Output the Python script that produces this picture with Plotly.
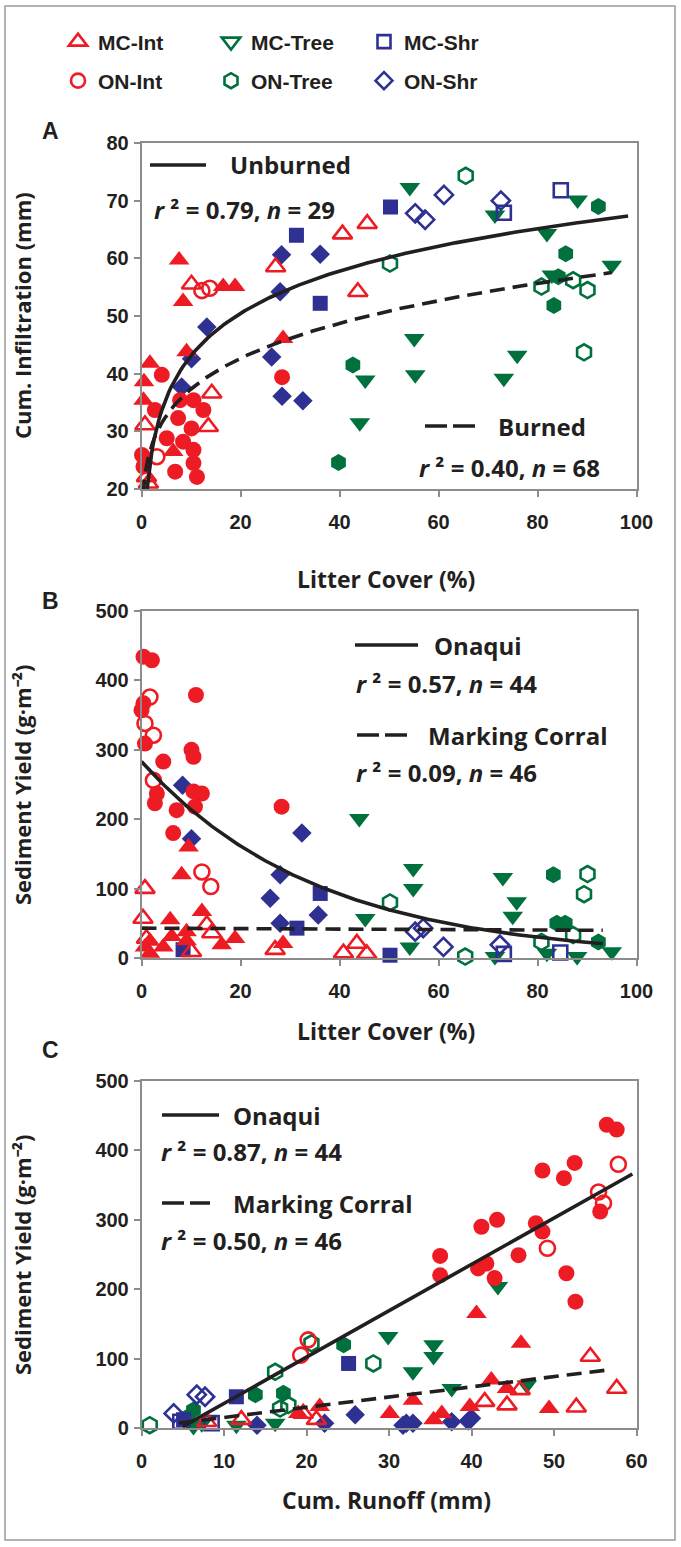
import plotly.graph_objects as go
import numpy as np

W, H = 681, 1547

RED = "#ED1C24"
GREEN = "#00703C"
BLUE = "#2E3192"
INK = "#231F20"
GRAY = "#8C8C8C"

# ---------------- Panel A: litter cover (%) vs cum. infiltration (mm)
A_MCINT_O = [(27.1,58.5),(40.6,64.2),(45.6,66.0),(43.7,54.2),(10.1,55.5),(14.2,36.6),(13.5,30.8),(0.7,31.1),(1.0,22.1),(1.4,21.0)]
A_MCINT_F = [(7.6,59.7),(8.4,52.5),(16.5,55.1),(18.9,55.1),(9.1,43.8),(28.6,46.1),(1.7,41.8),(0.5,38.6),(0.4,35.4),(6.4,26.5)]
A_ONINT_O = [(12.2,54.4),(13.8,54.8),(3.1,25.6)]
A_ONINT_F = [(4.1,39.8),(2.7,33.7),(7.8,35.4),(10.5,35.4),(12.5,33.7),(7.4,32.3),(10.1,30.5),(5.1,28.8),(8.4,28.2),(10.5,26.8),(0.1,25.9),(0.4,23.9),(6.8,23.0),(11.2,22.1),(10.5,24.5),(28.4,39.4)]
A_MCTREE_O = []
A_MCTREE_F = [(54.2,72.3),(71.4,67.5),(88.1,70.1),(81.9,64.3),(95.0,58.8),(82.9,57.1),(55.1,46.1),(55.3,39.8),(75.9,43.2),(73.2,39.2),(45.2,38.9),(44.1,31.5)]
A_ONTREE_O = [(50.2,59.1),(65.5,74.3),(87.2,56.2),(80.8,55.1),(90.1,54.5),(89.4,43.7)]
A_ONTREE_F = [(92.3,69.0),(85.7,60.8),(84.2,56.8),(83.3,51.8),(42.7,41.5),(39.8,24.6)]
A_MCSHR_O = [(73.2,67.9),(84.7,71.8)]
A_MCSHR_F = [(31.3,64.0),(36.1,52.2),(50.3,68.9)]
A_ONSHR_O = [(55.3,67.8),(57.3,66.7),(61.1,71.0),(72.6,70.0)]
A_ONSHR_F = [(13.2,48.1),(28.3,60.6),(36.1,60.7),(28.0,54.2),(10.1,42.6),(26.3,42.9),(28.4,36.1),(32.6,35.3),(8.1,37.7)]

# ---------------- Panel B: litter cover (%) vs sediment yield (g m-2)
B_MCINT_O = [(0.7,100),(0.3,57),(13.2,48),(14.2,36),(10.1,9),(27.0,12),(40.8,7),(43.5,21),(45.5,6),(1.0,28)]
B_MCINT_F = [(9.5,160),(8.1,120),(5.8,55),(12.2,67),(9.1,38),(18.9,28),(6.1,31),(1.7,24),(0.7,16),(16.2,19),(28.6,21),(4.4,16),(1.7,7),(9.1,25)]
B_ONINT_O = [(1.7,376),(0.7,338),(2.4,321),(2.4,256),(12.2,124),(14.0,103)]
B_ONINT_F = [(0.4,434),(2.1,429),(0.4,367),(0.0,357),(11.0,379),(0.7,309),(4.4,283),(10.1,300),(10.5,290),(3.1,237),(10.5,240),(12.2,237),(28.3,218),(2.7,223),(7.1,213),(10.8,218),(6.4,180)]
B_MCTREE_O = []
B_MCTREE_F = [(44.0,201),(45.2,57),(54.9,129),(54.9,100),(54.2,16),(71.4,2),(73.0,116),(75.8,81),(75.0,60),(81.9,7),(88.0,2),(95.0,9)]
B_ONTREE_O = [(50.2,80),(65.4,2),(90.1,121),(89.4,92),(87.2,33),(80.8,23)]
B_ONTREE_F = [(83.2,120),(83.9,50),(85.6,50),(92.3,23)]
B_MCSHR_O = [(73.2,6),(84.6,8)]
B_MCSHR_F = [(36.1,93),(31.4,43),(8.4,12),(50.2,4)]
B_ONSHR_O = [(55.3,38),(56.9,43),(61.0,16),(72.4,19)]
B_ONSHR_F = [(8.3,249),(10.1,172),(32.4,180),(28.0,120),(26.0,86),(35.7,62),(28.0,50)]

# ---------------- Panel C: cum. runoff (mm) vs sediment yield (g m-2)
C_MCINT_O = [(54.4,103),(57.6,57),(52.7,30),(44.3,33),(41.6,38),(45.9,55),(12.1,12),(19.6,21),(21.2,12),(7.9,9)]
C_MCINT_F = [(40.6,165),(46.0,122),(42.4,69),(44.3,57),(32.9,40),(49.4,28),(35.4,12),(36.4,21),(39.8,31),(19.0,21),(21.6,31),(30.1,21)]
C_ONINT_O = [(57.8,380),(55.4,340),(56.0,324),(49.2,259),(20.2,127),(19.3,105)]
C_ONINT_F = [(56.4,437),(57.6,430),(48.6,371),(51.2,360),(52.5,382),(41.2,290),(43.1,300),(47.8,295),(48.6,283),(36.2,248),(36.2,220),(40.8,230),(41.8,237),(42.8,216),(45.7,249),(51.5,223),(52.6,182),(55.6,312)]
C_MCTREE_O = []
C_MCTREE_F = [(43.2,204),(35.4,120),(35.4,103),(32.9,81),(37.6,57),(46.7,62),(29.9,132),(11.5,4),(16.2,7),(6.3,2),(7.3,6)]
C_ONTREE_O = [(1.0,4),(16.2,81),(16.8,28),(17.8,33),(20.6,122),(28.1,93)]
C_ONTREE_F = [(6.3,26),(13.8,48),(17.2,50),(24.5,120),(5.5,15)]
C_MCSHR_O = [(4.7,9),(8.5,7)]
C_MCSHR_F = [(11.5,45),(25.1,93),(5.1,12)]
C_ONSHR_O = [(3.9,21),(6.7,48),(7.7,45)]
C_ONSHR_F = [(14.0,4),(22.2,7),(25.9,19),(31.7,4),(32.9,7),(32.1,7),(37.6,9),(40.0,14),(39.6,10)]

# ---------------- fitted trend lines (coefficients)
A_UNBURNED_LOG = (18.7, 10.6, 1.13, 98.3)     # y = a + b ln x, x from..to
A_BURNED_POW = (24.0, 0.192, 0.3, 95.0)       # y = a x^b
B_ONAQUI_EXP = (283.0, 0.0281, 0.0, 93.2)     # y = a exp(-k x)
B_MC_EXP = (43.0, 0.0008, 0.0, 93.2)
C_ONAQUI_LIN = (6.68, -31.4, 5.0, 59.5)       # y = m x + c
C_MC_LIN = (1.47, 0.5, 4.5, 57.0)

LEGEND_NAMES = ["MC-Int", "MC-Tree", "MC-Shr", "ON-Int", "ON-Tree", "ON-Shr"]
XTICKS_A = [0, 20, 40, 60, 80, 100]
YTICKS_A = [20, 30, 40, 50, 60, 70, 80]
YTICKS_B = [0, 100, 200, 300, 400, 500]
XTICKS_C = [0, 10, 20, 30, 40, 50, 60]

FONT = "Liberation Sans"
LFONT = "Open Sans"

STYLE = {
    "MCINT": ("triangle-up", RED, 18),
    "ONINT": ("circle", RED, 16),
    "MCTREE": ("triangle-down", GREEN, 18),
    "ONTREE": ("hexagon", GREEN, 17),
    "MCSHR": ("square", BLUE, 15),
    "ONSHR": ("diamond", BLUE, 15),
}

def ppx(p):
    return p / W

def ppy(p):
    return 1 - p / H

fig = go.Figure()

def add_group(pts, key, filled, xa, ya):
    if not pts:
        return
    sym, col, size = STYLE[key]
    xs = [p[0] for p in pts]
    ys = [p[1] for p in pts]
    if filled:
        marker = dict(symbol=sym, color=col, size=size, line=dict(width=0))
    else:
        marker = dict(symbol=sym + "-open", color=col, size=size - 1, line=dict(width=2.6, color=col))
    fig.add_trace(go.Scatter(x=xs, y=ys, mode="markers", marker=marker, xaxis=xa, yaxis=ya,
                             showlegend=False, cliponaxis=False, hoverinfo="x+y"))

panels = {
    ("x", "y"): dict(MCINT=(A_MCINT_O, A_MCINT_F), ONINT=(A_ONINT_O, A_ONINT_F),
                     MCTREE=(A_MCTREE_O, A_MCTREE_F), ONTREE=(A_ONTREE_O, A_ONTREE_F),
                     MCSHR=(A_MCSHR_O, A_MCSHR_F), ONSHR=(A_ONSHR_O, A_ONSHR_F)),
    ("x2", "y2"): dict(MCINT=(B_MCINT_O, B_MCINT_F), ONINT=(B_ONINT_O, B_ONINT_F),
                       MCTREE=(B_MCTREE_O, B_MCTREE_F), ONTREE=(B_ONTREE_O, B_ONTREE_F),
                       MCSHR=(B_MCSHR_O, B_MCSHR_F), ONSHR=(B_ONSHR_O, B_ONSHR_F)),
    ("x3", "y3"): dict(MCINT=(C_MCINT_O, C_MCINT_F), ONINT=(C_ONINT_O, C_ONINT_F),
                       MCTREE=(C_MCTREE_O, C_MCTREE_F), ONTREE=(C_ONTREE_O, C_ONTREE_F),
                       MCSHR=(C_MCSHR_O, C_MCSHR_F), ONSHR=(C_ONSHR_O, C_ONSHR_F)),
}
order = ["ONTREE", "MCTREE", "MCSHR", "ONSHR", "MCINT", "ONINT"]
for (xa, ya), groups in panels.items():
    for key in order:
        o, f = groups[key]
        add_group(o, key, False, xa, ya)
        add_group(f, key, True, xa, ya)

# trend lines
def curve(kind, coef):
    a, b, x0, x1 = coef
    xs = np.linspace(x0, x1, 200)
    if kind == "log":
        ys = a + b * np.log(xs)
    elif kind == "pow":
        ys = a * np.power(xs, b)
    elif kind == "exp":
        ys = a * np.exp(-b * xs)
    else:
        ys = a * xs + b
    return xs, ys

SOLID = dict(color=INK, width=3.6)
DASHED = dict(color=INK, width=3.6, dash="15px,8px")
for kind, coef, line, xa, ya in [
    ("log", A_UNBURNED_LOG, SOLID, "x", "y"),
    ("pow", A_BURNED_POW, DASHED, "x", "y"),
    ("exp", B_ONAQUI_EXP, SOLID, "x2", "y2"),
    ("exp", B_MC_EXP, DASHED, "x2", "y2"),
    ("lin", C_ONAQUI_LIN, SOLID, "x3", "y3"),
    ("lin", C_MC_LIN, DASHED, "x3", "y3"),
]:
    xs, ys = curve(kind, coef)
    fig.add_trace(go.Scatter(x=xs, y=ys, mode="lines", line=line, xaxis=xa, yaxis=ya,
                             showlegend=False, hoverinfo="skip"))

# legend entries (open symbols)
leg_keys = ["MCINT", "MCTREE", "MCSHR", "ONINT", "ONTREE", "ONSHR"]
for i, (key, name) in enumerate(zip(leg_keys, LEGEND_NAMES)):
    sym, col, size = STYLE[key]
    fig.add_trace(go.Scatter(x=[None], y=[None], mode="markers", name=name,
                             marker=dict(symbol=sym + "-open", color=col, size=size - 2,
                                         line=dict(width=2.6, color=col)),
                             legend="legend" if i < 3 else "legend2"))

xdom = [ppx(141.5), ppx(636.5)]
tickfont = dict(family=FONT, size=20, color=INK, weight="bold")

def xaxis(rng, ticks, dom_anchor):
    return dict(domain=xdom, range=rng, tickvals=ticks, showline=True, linecolor=GRAY, linewidth=1.5,
                mirror=True, ticks="outside", ticklen=6, tickcolor=GRAY, tickwidth=1.5,
                showgrid=False, zeroline=False, tickfont=tickfont, anchor=dom_anchor,
                automargin=False, ticklabelstandoff=8, fixedrange=True)

def yaxis(dom, rng, ticks, anchor):
    return dict(domain=dom, range=rng, tickvals=ticks, showline=True, linecolor=GRAY, linewidth=1.5,
                mirror=True, ticks="outside", ticklen=6, tickcolor=GRAY, tickwidth=1.5,
                showgrid=False, zeroline=False, tickfont=tickfont, anchor=anchor,
                automargin=False, ticklabelstandoff=1, fixedrange=True)

legfont = dict(family=FONT, size=21, color=INK, weight="bold")
fig.update_layout(
    width=W, height=H, margin=dict(l=0, r=0, t=0, b=0, autoexpand=False),
    paper_bgcolor="white", plot_bgcolor="white",
    xaxis=xaxis([0, 100], XTICKS_A, "y"),
    yaxis=yaxis([ppy(489), ppy(143)], [20, 80], YTICKS_A, "x"),
    xaxis2=xaxis([0, 100], XTICKS_A, "y2"),
    yaxis2=yaxis([ppy(958), ppy(611)], [0, 500], YTICKS_B, "x2"),
    xaxis3=xaxis([0, 60], XTICKS_C, "y3"),
    yaxis3=yaxis([ppy(1428), ppy(1081)], [0, 500], YTICKS_B, "x3"),
    legend=dict(orientation="h", x=ppx(58), y=ppy(42), xanchor="left", yanchor="middle",
                entrywidth=108, entrywidthmode="pixels", bgcolor="rgba(0,0,0,0)",
                font=legfont, itemsizing="trace"),
    legend2=dict(orientation="h", x=ppx(58), y=ppy(81), xanchor="left", yanchor="middle",
                 entrywidth=108, entrywidthmode="pixels", bgcolor="rgba(0,0,0,0)",
                 font=legfont, itemsizing="trace"),
)

ann = []
def text(s, x, y, size=24, xanchor="left", angle=0, family=LFONT):
    ann.append(dict(text=s, x=ppx(x), y=ppy(y), xref="paper", yref="paper", showarrow=False,
                    xanchor=xanchor, yanchor="middle", textangle=angle,
                    font=dict(family=family, size=size, color=INK, weight="bold")))

# panel letters
text("A", 40, 131, 23, family=FONT)
text("B", 40, 601, 23, family=FONT)
text("C", 40, 1050, 23, family=FONT)
# axis titles
text("Cum. Infiltration (mm)", 22, 316, 22, "center", -90)
text("Litter Cover (%)", 386, 579, 23, "center")
text("Sediment Yield (g·m⁻²)", 22, 785, 22, "center", -90)
text("Litter Cover (%)", 386, 1031, 23, "center")
text("Sediment Yield (g·m⁻²)", 22, 1255, 22, "center", -90)
text("Cum. Runoff (mm)", 386, 1500, 23, "center")
# panel A fit labels
text("Unburned", 228, 165)
text("<i>r</i> ² = 0.79, <i>n</i> = 29", 152, 210)
text("Burned", 496, 426)
text("<i>r</i> ² = 0.40, <i>n</i> = 68", 417, 467)
# panel B
text("Onaqui", 432, 645)
text("<i>r</i> ² = 0.57, <i>n</i> = 44", 354, 683)
text("Marking Corral", 426, 735)
text("<i>r</i> ² = 0.09, <i>n</i> = 46", 354, 772)
# panel C
text("Onaqui", 231, 1115)
text("<i>r</i> ² = 0.87, <i>n</i> = 44", 159, 1151)
text("Marking Corral", 231, 1203)
text("<i>r</i> ² = 0.50, <i>n</i> = 46", 159, 1240)

shapes = [dict(type="rect", xref="paper", yref="paper", x0=ppx(5), x1=ppx(675), y0=ppy(1540), y1=ppy(6),
               line=dict(color="#9A9A9A", width=1.5))]
def sample(x0, x1, y, dashed):
    shapes.append(dict(type="line", xref="paper", yref="paper", x0=ppx(x0), x1=ppx(x1), y0=ppy(y), y1=ppy(y),
                       line=dict(color=INK, width=3.6, dash="22px,6px" if dashed else "solid")))
sample(150, 206, 165, False)
sample(425, 475, 426, True)
sample(355, 418, 645, False)
sample(357, 410, 735, True)
sample(162, 219, 1115, False)
sample(162, 210, 1203, True)

fig.update_layout(annotations=ann, shapes=shapes)
fig.write_html("out.html", config={"displayModeBar": False},
               post_script="document.body.style.margin='0';document.body.style.overflow='hidden';")
